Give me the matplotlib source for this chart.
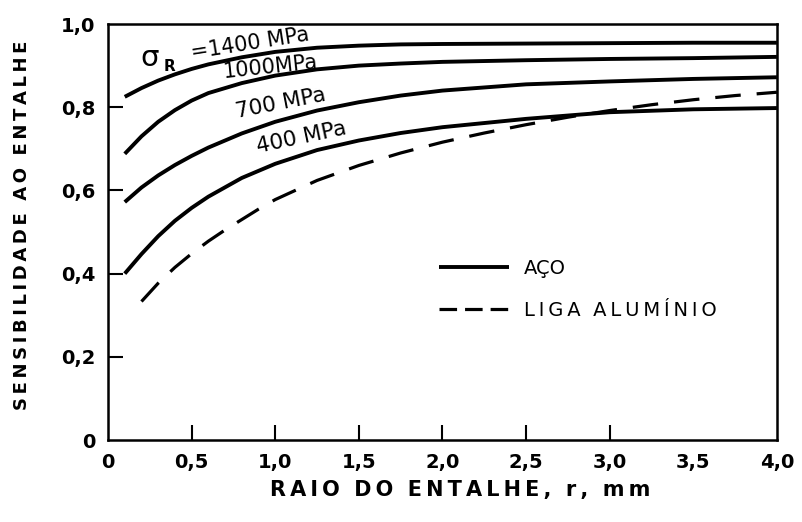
import numpy as np
import matplotlib
matplotlib.use("Agg")
import matplotlib.pyplot as plt

# notch radius (mm) and notch sensitivity
r_steel = [0.1, 0.2, 0.3, 0.4, 0.5, 0.6, 0.8, 1.0, 1.25, 1.5, 1.75, 2.0, 2.5, 3.0, 3.5, 4.0]
q_1400 = [0.825, 0.846, 0.864, 0.879, 0.892, 0.903, 0.920, 0.933, 0.943, 0.948,
          0.951, 0.952, 0.953, 0.954, 0.955, 0.955]
q_1000 = [0.688, 0.730, 0.765, 0.793, 0.816, 0.834, 0.858, 0.876, 0.891, 0.900,
          0.905, 0.909, 0.913, 0.916, 0.918, 0.921]
q_700 = [0.572, 0.607, 0.636, 0.661, 0.683, 0.703, 0.737, 0.765, 0.792, 0.812,
         0.828, 0.840, 0.855, 0.862, 0.868, 0.872]
q_400 = [0.400, 0.447, 0.490, 0.527, 0.558, 0.585, 0.630, 0.664, 0.697, 0.720,
         0.738, 0.752, 0.772, 0.788, 0.795, 0.798]

r_alu = [0.2, 0.3, 0.4, 0.5, 0.6, 0.7, 0.8, 0.9, 1.0, 1.25, 1.5, 1.75, 2.0, 2.25,
         2.5, 2.75, 3.0, 3.25, 3.5, 3.75, 4.0]
q_alu = [0.333, 0.377, 0.415, 0.448, 0.478, 0.505, 0.530, 0.555, 0.578, 0.624,
         0.660, 0.690, 0.716, 0.738, 0.758, 0.776, 0.792, 0.806, 0.818, 0.828, 0.836]

xtick_vals = [0, 0.5, 1.0, 1.5, 2.0, 2.5, 3.0, 3.5, 4.0]
xtick_text = ["0", "0,5", "1,0", "1,5", "2,0", "2,5", "3,0", "3,5", "4,0"]
ytick_vals = [0, 0.2, 0.4, 0.6, 0.8, 1.0]
ytick_text = ["0", "0,2", "0,4", "0,6", "0,8", "1,0"]

TS = "\u2009"  # thin space for the wide hand lettering


def spaced(s):
    return TS.join(s)


fig = plt.figure(figsize=(8.02, 5.22), dpi=100)
ax = fig.add_axes([0.1347, 0.157, 0.834, 0.797])

lw = 2.8
ax.plot(r_steel, q_1400, color="black", lw=lw, solid_capstyle="butt", label="AÇO")
ax.plot(r_steel, q_1000, color="black", lw=lw, solid_capstyle="butt")
ax.plot(r_steel, q_700, color="black", lw=lw, solid_capstyle="butt")
ax.plot(r_steel, q_400, color="black", lw=lw, solid_capstyle="butt")
ax.plot(r_alu, q_alu, color="black", lw=2.3, linestyle=(0, (8, 5)),
        dash_capstyle="butt", label=spaced("LIGA") + "  " + spaced("ALUMÍNIO"))

ax.set_xlim(0, 4.0)
ax.set_ylim(0, 1.0)

for s in ax.spines.values():
    s.set_linewidth(1.8)

# inward ticks only where the original has them
ax.set_xticks(xtick_vals[1:7], xtick_text[1:7])
ax.set_xticks([xtick_vals[0]] + xtick_vals[7:], [xtick_text[0]] + xtick_text[7:], minor=True)
ax.set_yticks(ytick_vals[1:5], ytick_text[1:5])
ax.set_yticks([ytick_vals[0], ytick_vals[5]], [ytick_text[0], ytick_text[5]], minor=True)
ax.tick_params(which="major", direction="in", length=11, width=1.5, pad=9,
               labelsize=14)
ax.tick_params(which="minor", length=0, pad=9, labelsize=14)
for lab in ax.get_xticklabels(which="both") + ax.get_yticklabels(which="both"):
    lab.set_fontweight("bold")

# curve labels
ax.text(0.25, 0.918, "σ", fontsize=21, ha="center", va="center")
ax.text(0.365, 0.898, "R", fontsize=11, fontweight="bold", ha="center", va="center")
ax.text(0.85, 0.953, "=1400 MPa", fontsize=15, rotation=9, ha="center", va="center")
ax.text(0.97, 0.896, "1000MPa", fontsize=15, rotation=6, ha="center", va="center")
ax.text(1.035, 0.810, "700 MPa", fontsize=15.5, rotation=11, ha="center", va="center")
ax.text(1.16, 0.726, "400 MPa", fontsize=15.5, rotation=12, ha="center", va="center")

leg = ax.legend(loc="upper left", bbox_to_anchor=(0.495, 0.436), frameon=False,
                fontsize=14, handlelength=3.6, handletextpad=0.75, labelspacing=1.2,
                borderpad=0, borderaxespad=0)
leg.get_lines()[1].set_linestyle((0, (5.5, 2.5)))

fig.text(0.028, 0.569, spaced("SENSIBILIDADE") + "  " + spaced("AO") + "  " + spaced("ENTALHE"),
         rotation=90, ha="center", va="center", fontsize=13, fontweight="bold")
fig.text(0.574, 0.061, spaced("RAIO") + "  " + spaced("DO") + "  " + spaced("ENTALHE,") +
         "  " + spaced("r,") + "  " + spaced("mm"),
         ha="center", va="center", fontsize=15, fontweight="bold")

fig.savefig("out.png", dpi=100)
